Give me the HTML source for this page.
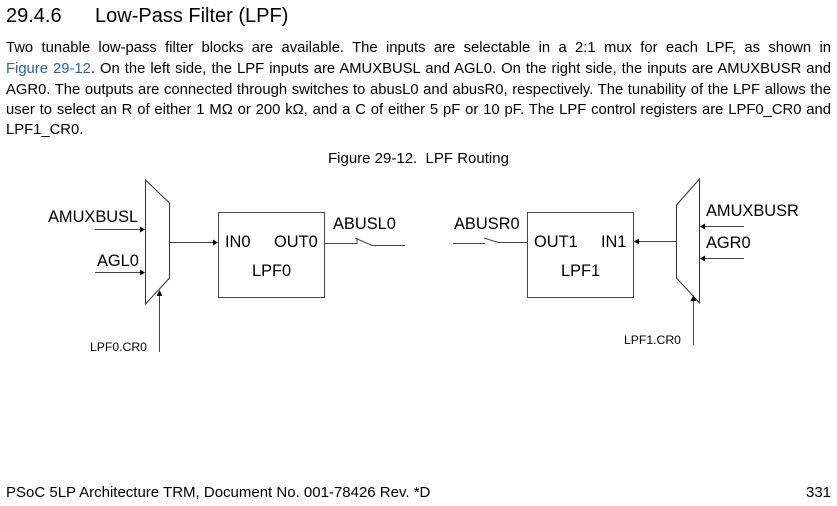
<!DOCTYPE html>
<html><head><meta charset="utf-8"><style>
body{margin:0;width:837px;height:506px;background:#fff;position:relative;font-family:"Liberation Sans",Arial,sans-serif;color:#000;overflow:hidden}
.a{position:absolute;white-space:nowrap}
.l{position:absolute;left:6px;width:825px;font-size:14.8px;text-align:justify;text-align-last:justify;white-space:nowrap;line-height:17px}
.last{text-align-last:left}
a{color:#2b5fad;text-decoration:none}
</style></head><body>
<div class="a" style="left:6px;top:5px;font-size:20px">29.4.6</div>
<div class="a" style="left:95px;top:5px;font-size:20px">Low-Pass Filter (LPF)</div>
<div class="l" style="top:40px">Two tunable low-pass filter blocks are available. The inputs are selectable in a 2:1 mux for each LPF, as shown in</div>
<div class="l" style="top:61px"><a>Figure 29-12</a>. On the left side, the LPF inputs are AMUXBUSL and AGL0. On the right side, the inputs are AMUXBUSR and</div>
<div class="l" style="top:82px">AGR0. The outputs are connected through switches to abusL0 and abusR0, respectively. The tunability of the LPF allows the</div>
<div class="l" style="top:102px">user to select an R of either 1 MΩ or 200 kΩ, and a C of either 5 pF or 10 pF. The LPF control registers are LPF0_CR0 and</div>
<div class="l last" style="top:122px">LPF1_CR0.</div>
<div class="a" style="left:328px;top:150px;font-size:15px">Figure 29-12.&nbsp; LPF Routing</div>
<svg class="a" style="left:0;top:0" width="837" height="506" font-family="Liberation Sans, Arial, sans-serif">
<g stroke="#444" fill="none" stroke-width="1">
<polygon points="145.5,180 169.5,203 169.5,278 145.5,304" stroke="#333"/>
<rect x="218.5" y="212.5" width="106" height="85"/>
<line x1="95" y1="229.5" x2="143" y2="229.5"/>
<line x1="95" y1="272.5" x2="143" y2="272.5"/>
<line x1="169" y1="242.5" x2="216" y2="242.5"/>
<line x1="159.5" y1="352" x2="159.5" y2="294"/>
<polyline points="325,243.5 357,243.5 357,238"/>
<polyline points="355,238 372,245.5 405,245.5"/>
<polygon points="699.5,179 676.5,205 676.5,278 699.5,303" stroke="#333"/>
<rect x="527.5" y="212.5" width="106" height="85"/>
<line x1="744" y1="226.5" x2="702" y2="226.5"/>
<line x1="744" y1="258.5" x2="702" y2="258.5"/>
<line x1="676" y1="241.5" x2="636" y2="241.5"/>
<line x1="693.5" y1="345" x2="693.5" y2="299"/>
<polyline points="453,243.5 485,243.5"/>
<polyline points="484,238 498,242.5 527,242.5"/>
</g>
<g fill="#000">
<polygon points="145,229.5 140,226.5 140,232.5"/>
<polygon points="145,272.5 140,269.5 140,275.5"/>
<polygon points="218,242.5 213,239.5 213,245.5"/>
<polygon points="159.5,290 156.5,296 162.5,296"/>
<polygon points="700,226.5 705,223.5 705,229.5"/>
<polygon points="700,258.5 705,255.5 705,261.5"/>
<polygon points="634,241.5 639,238.5 639,244.5"/>
<polygon points="693.5,295 690.5,301 696.5,301"/>
</g>
<g font-size="16.4">
<text x="48" y="222">AMUXBUSL</text>
<text x="97" y="266">AGL0</text>
<text x="225" y="247">IN0</text>
<text x="274" y="247">OUT0</text>
<text x="252" y="276">LPF0</text>
<text x="333" y="229">ABUSL0</text>
<text x="454" y="229">ABUSR0</text>
<text x="534" y="247">OUT1</text>
<text x="601" y="247">IN1</text>
<text x="561" y="276">LPF1</text>
<text x="706" y="216">AMUXBUSR</text>
<text x="706" y="248">AGR0</text>
</g>
<g font-size="12.2">
<text x="90" y="351">LPF0.CR0</text>
<text x="624" y="344">LPF1.CR0</text>
</g>
</svg>
<div class="a" style="left:6px;top:484px;font-size:15px">PSoC 5LP Architecture TRM, Document No. 001-78426 Rev. *D</div>
<div class="a" style="left:806px;top:484px;font-size:15px">331</div>
</body></html>
